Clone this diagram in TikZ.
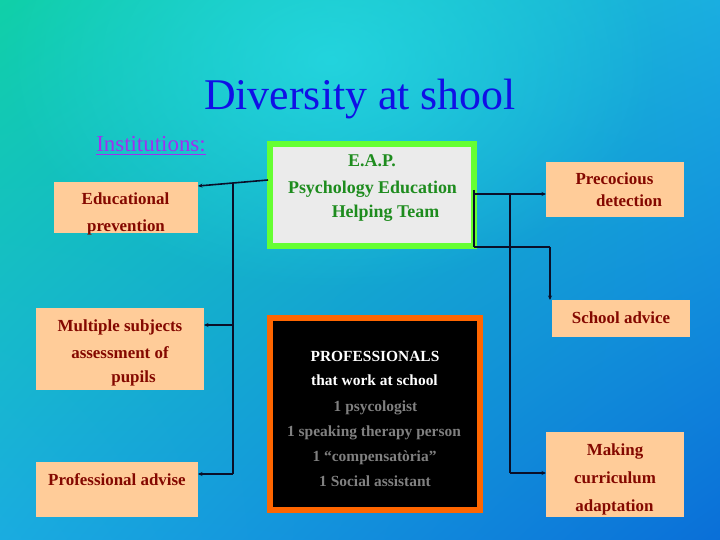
\documentclass[tikz,border=0pt]{standalone}
\usepackage{fontspec}
\setmainfont{Liberation Serif}
\usetikzlibrary{arrows.meta,fadings,shadings}
\definecolor{bgTL}{RGB}{16,208,168}
\definecolor{bgTR}{RGB}{26,174,224}
\definecolor{bgBL}{RGB}{26,172,224}
\definecolor{bgBR}{RGB}{10,111,216}
\definecolor{glowc}{RGB}{45,228,238}
\definecolor{peach}{RGB}{255,204,153}
\definecolor{darkred}{RGB}{132,8,0}
\definecolor{eapgreen}{RGB}{102,255,51}
\definecolor{eapfill}{RGB}{235,235,235}
\definecolor{eaptext}{RGB}{30,140,30}
\definecolor{profor}{RGB}{255,102,0}
\definecolor{profgray}{RGB}{128,128,128}
\definecolor{titleblue}{RGB}{16,16,230}
\definecolor{instc}{RGB}{160,48,240}
\definecolor{linec}{RGB}{10,15,40}
\tikzfading[name=glowfade, inner color=transparent!0, outer color=transparent!100]
\begin{document}
\begin{tikzpicture}[x=1bp,y=-1bp,
  peachbox/.style={fill=peach, draw=none, inner sep=0, minimum width=#1},
  boxtxt/.style={font=\bfseries\fontsize{17}{20}\selectfont, text=darkred, anchor=base, inner sep=0},
  eaptxt/.style={font=\bfseries\fontsize{18}{21}\selectfont, text=eaptext, anchor=base, inner sep=0},
  proftxt/.style={font=\bfseries\fontsize{15.5}{18}\selectfont, text=#1, anchor=base, inner sep=0},
  conn/.style={draw=linec, line width=1.6bp},
  arr/.style={conn, -{Stealth[length=4.5bp,width=4bp]}}]
\useasboundingbox (0,0) rectangle (720,540);
\shade[upper left=bgTL, upper right=bgTR, lower left=bgBL, lower right=bgBR] (0,0) rectangle (720,540);
\fill[glowc, path fading=glowfade, opacity=0.6] (330,60) ellipse [x radius=330, y radius=230];

% title
\node[font=\fontsize{44}{50}\selectfont, text=titleblue, anchor=base, inner sep=0] (title) at (360,110) {Diversity at shool};
\node[font=\fontsize{23}{26}\selectfont, text=instc, anchor=base, inner sep=0] (inst) at (151,152) {Institutions:};
\draw[instc, line width=1.8bp] ([yshift=-2.5bp]inst.base west) -- ([yshift=-2.5bp]inst.base east);

% left boxes
\node[peachbox=144bp, minimum height=51bp] (edu) at (126,207.5) {};
\node[boxtxt] (edu1) at (125.5,205) {Educational};
\node[boxtxt] (edu2) at (126,232) {prevention};

\node[peachbox=168bp, minimum height=82bp] (mult) at (120,349) {};
\node[boxtxt] (mult1) at (120,331) {Multiple subjects};
\node[boxtxt] (mult2) at (120,358) {assessment of};
\node[boxtxt] (mult3) at (133.5,382) {pupils};

\node[peachbox=162bp, minimum height=55bp] (padv) at (117,489.5) {};
\node[boxtxt] (padv1) at (117,485) {Professional advise};

% EAP box
\node[draw=eapgreen, line width=6bp, fill=eapfill, inner sep=0, minimum width=204bp, minimum height=102bp] (eap) at (372,195) {};
\node[eaptxt] (eap1) at (372,167) {E.A.P.};
\node[eaptxt] (eap2) at (372.5,194) {Psychology Education};
\node[eaptxt] (eap3) at (385.5,218) {Helping Team};

% professionals box
\node[draw=profor, line width=6bp, fill=black, inner sep=0, minimum width=210bp, minimum height=192bp] (prof) at (375,414) {};
\node[proftxt=white] (pr1) at (375,361) {PROFESSIONALS};
\node[proftxt=white] (pr2) at (374.5,385) {that work at school};
\node[proftxt=profgray] (pr3) at (375.5,411) {1 psycologist};
\node[proftxt=profgray] (pr4) at (374,436) {1 speaking therapy person};
\node[proftxt=profgray] (pr5) at (374.5,461) {1 “compensatòria”};
\node[proftxt=profgray] (pr6) at (375,486) {1 Social assistant};

% right boxes
\node[peachbox=138bp, minimum height=55bp] (prec) at (615,189.5) {};
\node[boxtxt] (prec1) at (614.5,185) {Precocious};
\node[boxtxt] (prec2) at (629,207) {detection};

\node[peachbox=138bp, minimum height=37bp] (sadv) at (621,318.5) {};
\node[boxtxt] (sadv1) at (621,323) {School advice};

\node[peachbox=138bp, minimum height=85bp] (make) at (615,474.5) {};
\node[boxtxt] (make1) at (615,455) {Making};
\node[boxtxt] (make2) at (615,483) {curriculum};
\node[boxtxt] (make3) at (614.5,511) {adaptation};

% connector points
\coordinate (eapL) at (268,180);
\coordinate (eduR) at (198,186);
\coordinate (jL) at (233,183.3);
\coordinate (multR) at (204,325);
\coordinate (padvR) at (198,474);
\coordinate (eapRt) at (474,190);
\coordinate (eapRb) at (474,247);
\coordinate (precL) at (546,194);
\coordinate (jR) at (510,194);
\coordinate (makeL) at (546,473);
\coordinate (sadvT) at (550,300);

% left connectors
\draw[arr] (eapL) -- (eduR);
\draw[conn] (jL) -- (jL |- padvR);
\draw[arr] (jL |- padvR) -- (padvR);
\draw[arr] (jL |- multR) -- (multR);

% right connectors
\draw[conn] (eapRt) -- (eapRb);
\draw[arr] (eapRt |- precL) -- (precL);
\draw[conn] (jR) -- (jR |- makeL);
\draw[arr] (jR |- makeL) -- (makeL);
\draw[conn] (eapRb) -- (sadvT |- eapRb);
\draw[arr] (sadvT |- eapRb) -- (sadvT);
\end{tikzpicture}
\end{document}
